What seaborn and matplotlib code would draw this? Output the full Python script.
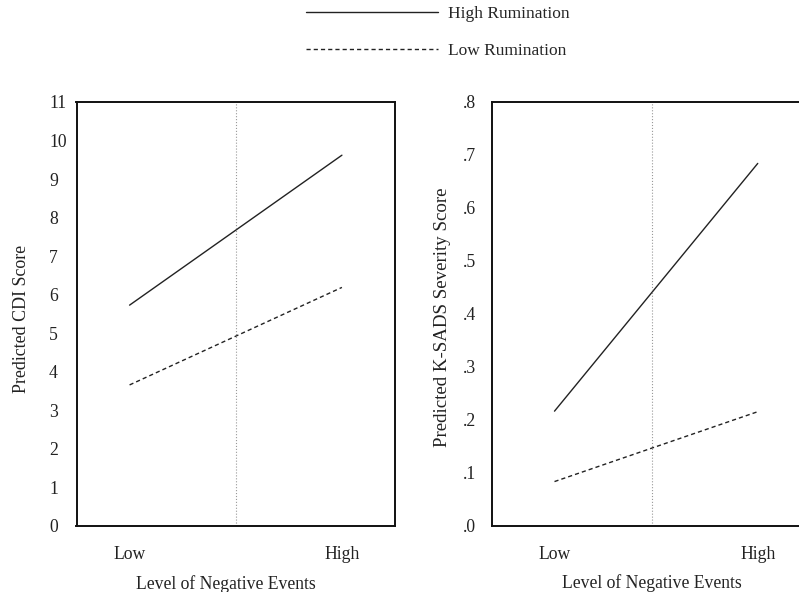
import pandas as pd
import seaborn as sns
import matplotlib
import matplotlib.pyplot as plt

matplotlib.use('Agg')

# data
levels = ["Low", "High"]
level_pos = [0, 1]
cdi_high = [5.73, 9.62]
cdi_low = [3.66, 6.19]
ksads_high = [0.216, 0.684]
ksads_low = [0.083, 0.215]
groups = ["High Rumination", "Low Rumination"]

cdi_ticks = list(range(0, 12))
ksads_ticks = [0.0, 0.1, 0.2, 0.3, 0.4, 0.5, 0.6, 0.7, 0.8]
ksads_ticklabels = [".0", ".1", ".2", ".3", ".4", ".5", ".6", ".7", ".8"]


def long_df(high, low):
    rows = []
    for g, vals in zip(groups, [high, low]):
        for x, v in zip(level_pos, vals):
            rows.append({'x': x, 'value': v, 'group': g})
    return pd.DataFrame(rows)


sns.set_theme(style='white')
plt.rcParams['font.family'] = ['Liberation Serif', 'DejaVu Serif']
plt.rcParams['font.size'] = 12.7

fig = plt.figure(figsize=(7.99, 5.92), dpi=100)
ax1 = fig.add_axes([76.5 / 799, 1 - 526 / 592, 318.5 / 799, 424 / 592])
ax2 = fig.add_axes([492.3 / 799, 1 - 525.5 / 592, 318.5 / 799, 423.5 / 592])

dashes = {"High Rumination": "", "Low Rumination": (3, 2.2)}

panels = [
    (ax1, long_df(cdi_high, cdi_low), "Predicted CDI Score", 12.9, (-0.25, 1.25), (0, 11),
     cdi_ticks, [str(t) for t in cdi_ticks], 19.8, (-0.174, 0.489), (0.469, -0.137)),
    (ax2, long_df(ksads_high, ksads_low), "Predicted K-SADS Severity Score", 13.6, (-0.306, 1.261), (0, 0.8),
     ksads_ticks, ksads_ticklabels, 21.1, (-0.155, 0.492), (0.5, -0.137)),
]

for ax, df, ylab, ylab_size, xlim, ylim, yt, ytl, ypad, ylc, xlc in panels:
    sns.lineplot(data=df, x='x', y='value', style='group', style_order=groups,
                 dashes=dashes, color='#222222', linewidth=1.0, errorbar=None,
                 legend=False, ax=ax)
    ax.set_xlim(*xlim)
    ax.set_ylim(*ylim)
    # dotted line at the centre of the panel
    ax.plot([0.5, 0.5], [0, 1], transform=ax.transAxes, color='#999999',
            linestyle=':', linewidth=0.8)
    ax.set_xticks(level_pos)
    ax.set_xticklabels(levels)
    ax.set_yticks(yt)
    ax.set_yticklabels(ytl)
    for lab in ax.get_yticklabels():
        lab.set_horizontalalignment('left')
    ax.tick_params(axis='x', length=0, pad=14.5, labelsize=12.7, colors='#222222')
    ax.tick_params(axis='y', length=0, pad=ypad, labelsize=12.7, colors='#222222')
    ax.set_xlabel("Level of Negative Events", fontsize=12.7, color='#222222', va='center')
    ax.set_ylabel(ylab, fontsize=ylab_size, color='#222222', va='center')
    ax.xaxis.set_label_coords(*xlc)
    ax.yaxis.set_label_coords(*ylc)
    for sp in ax.spines.values():
        sp.set_color('#111111')
        sp.set_linewidth(1.4)
        sp.set_visible(True)

handles = ax1.get_lines()[:2]
fig.legend(handles, groups, loc='upper left', bbox_to_anchor=(306 / 799, 1 - 5.5 / 592),
           frameon=False, fontsize=12.5, handlelength=7.6, handletextpad=0.6,
           labelspacing=1.2, borderpad=0, borderaxespad=0)

fig.savefig('out.png', dpi=100)
